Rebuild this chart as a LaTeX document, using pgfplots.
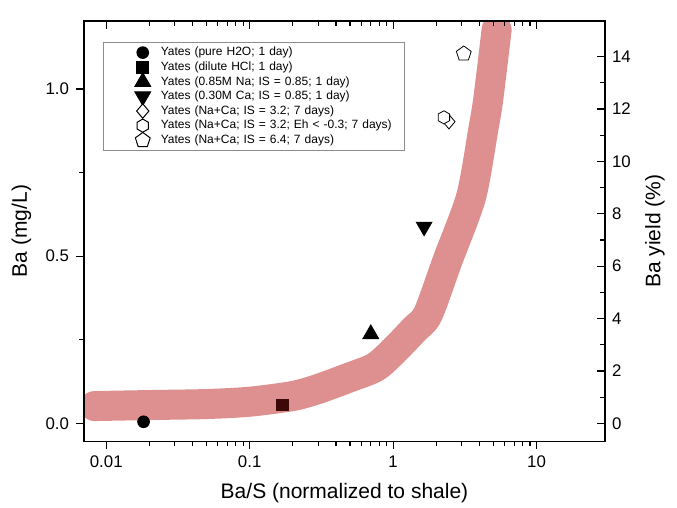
\documentclass[border=0pt]{standalone}
\usepackage{fontspec}
\setmainfont{Liberation Sans}
\usepackage{pgfplots}
\pgfplotsset{compat=1.18}
\usetikzlibrary{plotmarks,calc}
\definecolor{band}{RGB}{222,144,144}
\definecolor{darkred}{RGB}{62,8,8}
\pgfdeclareplotmark{hexa}{%
  \pgfpathmoveto{\pgfqpoint{0pt}{\pgfplotmarksize}}%
  \pgfpathlineto{\pgfqpoint{.866\pgfplotmarksize}{.5\pgfplotmarksize}}%
  \pgfpathlineto{\pgfqpoint{.866\pgfplotmarksize}{-.5\pgfplotmarksize}}%
  \pgfpathlineto{\pgfqpoint{0pt}{-\pgfplotmarksize}}%
  \pgfpathlineto{\pgfqpoint{-.866\pgfplotmarksize}{-.5\pgfplotmarksize}}%
  \pgfpathlineto{\pgfqpoint{-.866\pgfplotmarksize}{.5\pgfplotmarksize}}%
  \pgfpathclose\pgfusepathqfillstroke}
\pgfdeclareplotmark{rhomb}{%
  \pgfpathmoveto{\pgfqpoint{0pt}{\pgfplotmarksize}}%
  \pgfpathlineto{\pgfqpoint{.85\pgfplotmarksize}{0pt}}%
  \pgfpathlineto{\pgfqpoint{0pt}{-\pgfplotmarksize}}%
  \pgfpathlineto{\pgfqpoint{-.85\pgfplotmarksize}{0pt}}%
  \pgfpathclose\pgfusepathqfillstroke}
\pgfplotsset{
  baframe/.style={scale only axis, width=260.35pt, height=210pt,
    xmin=0.007, xmax=30, xtick={0.01,0.1,1,10},
    major tick length=4pt, minor tick length=2.5pt,
    axis line style={line width=0.65pt},
    tick style={black, line width=0.6pt},
    tick label style={font=\fontsize{8.4}{10}\selectfont},
    label style={font=\fontsize{10.5}{12}\selectfont},
    /pgf/number format/assume math mode=true},
  pt/.style={only marks, black, mark size=#1, mark options={line width=0.5pt}},
}
\begin{document}
\begin{tikzpicture}
\begin{semilogxaxis}[baframe, name=main,
  ymin=-0.053, ymax=1.203, ytick={0,0.5,1}, minor y tick num=1,
  log ticks with fixed point,
  yticklabel style={/pgf/number format/.cd, fixed, fixed zerofill, precision=1},
  xtick pos=bottom, ytick pos=left, tick align=outside,
  xlabel={Ba/S (normalized to shale)}, ylabel={Ba (mg/L)},
  xlabel style={at={(axis description cs:0.5,-0.124)}, anchor=center},
  ylabel style={at={(axis description cs:-0.12,0.5)}, anchor=center},
  legend cell align=left,
  legend style={at={(0.0365,0.9507)}, anchor=north west, draw=black!45, line width=0.5pt,
    inner xsep=2pt, inner ysep=2.2pt, row sep=1.3pt, font=\fontsize{6}{7}\selectfont,
    nodes={inner sep=0pt, text height=4.6pt, text depth=1.4pt, text width=120pt, align=left}},
  legend image code/.code={\path[draw=none, fill=none] (-17.6pt,-3pt) rectangle (9pt,3pt);
    \begin{pgfinterruptboundingbox}\draw[mark repeat=1,#1] plot coordinates {(0pt,0pt)};\end{pgfinterruptboundingbox}},
]
\addplot[band, line width=15pt, line cap=round, line join=round, smooth, tension=0.45, forget plot] coordinates {
 (0.0083,0.052) (0.02,0.055) (0.05,0.058) (0.1,0.065) (0.2,0.082) (0.3,0.103)
 (0.5,0.138) (0.75,0.168) (1.0,0.215) (1.4,0.28) (1.75,0.327) (2.4,0.488)
 (3.5,0.678) (4.25,0.878) (4.6,0.967) (5.27,1.177)};
\addplot[pt=2.9pt, mark=*] coordinates {(0.0182,0.005)};
\addlegendentry{Yates (pure H2O; 1 day)}
\addplot[pt=2.9pt, mark=square*] coordinates {(0.169,0.055)};
\addlegendentry{Yates (dilute HCl; 1 day)}
\addplot[pt=4.5pt, mark=triangle*] coordinates {(0.699,0.267)};
\addlegendentry{Yates (0.85M Na; IS = 0.85; 1 day)}
\addplot[pt=4.5pt, mark=triangle*, mark options={rotate=180}] coordinates {(1.645,0.588)};
\addlegendentry{Yates (0.30M Ca; IS = 0.85; 1 day)}
\addplot[pt=3.6pt, mark=rhomb, mark options={fill=white}] coordinates {(2.45,0.902)};
\addlegendentry{Yates (Na+Ca; IS = 3.2; 7 days)}
\addplot[pt=3.3pt, mark=hexa, mark options={fill=white}] coordinates {(2.26,0.915)};
\addlegendentry{Yates (Na+Ca; IS = 3.2; Eh < -0.3; 7 days)}
\addplot[pt=3.9pt, mark=pentagon, mark options={fill=white}] coordinates {(3.11,1.105)};
\addlegendentry{Yates (Na+Ca; IS = 6.4; 7 days)}
\addplot[only marks, mark=square*, mark size=2.9pt, mark options={fill=darkred, draw=darkred}, forget plot] coordinates {(0.169,0.055)};
\end{semilogxaxis}
\begin{semilogxaxis}[baframe,
  ymin=-0.68, ymax=15.36, ytick={0,2,...,14}, minor y tick num=1,
  xticklabels={}, xtick pos=top, ytick pos=right, yticklabel pos=right, tick align=inside,
  ylabel={Ba yield (\%)},
  ylabel style={at={(axis description cs:1.096,0.5)}, anchor=center},
]
\end{semilogxaxis}
\pgfresetboundingbox
\path[use as bounding box] ($(main.south west)+(-42pt,-33pt)$) rectangle ($(main.north east)+(36pt,10.5pt)$);
\end{tikzpicture}
\end{document}
